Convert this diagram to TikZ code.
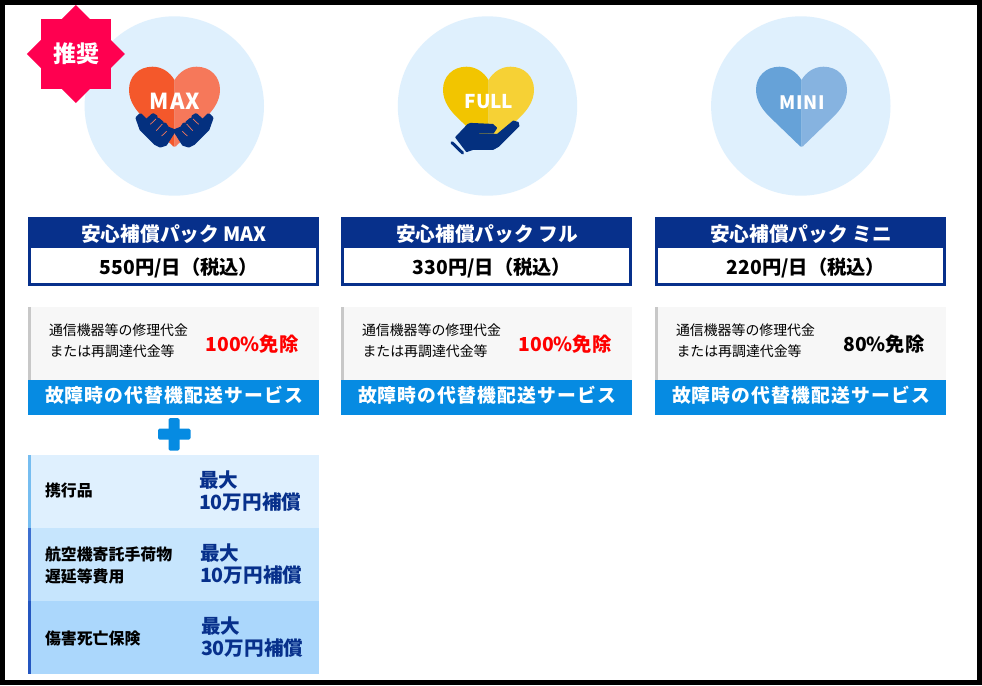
\documentclass[tikz,border=0pt]{standalone}
\usepackage{fontspec}
\setmainfont{Noto Sans CJK JP}
\newfontfamily\maxf[LetterSpace=6]{Noto Sans CJK JP}
\newfontfamily\minif[LetterSpace=4]{Noto Sans CJK JP}
\newfontfamily\bandf[LetterSpace=6]{Noto Sans CJK JP}
\newcommand{\fsz}[1]{\fontsize{#1}{#1}\selectfont}
\definecolor{navy}{HTML}{07308B}
\definecolor{handnavy}{HTML}{04307F}
\definecolor{bandblue}{HTML}{068BE2}
\definecolor{circ}{HTML}{DFF0FD}
\definecolor{grayfill}{HTML}{F7F7F7}
\definecolor{graybar}{HTML}{C8C8C8}
\definecolor{rowa}{HTML}{DFF0FE}
\definecolor{rowb}{HTML}{C6E5FD}
\definecolor{rowc}{HTML}{ABD7FC}
\definecolor{bara}{HTML}{76BDF0}
\definecolor{barb}{HTML}{3C6FD0}
\definecolor{barc}{HTML}{2456C0}
\definecolor{badge}{HTML}{FF0050}
\definecolor{maxa}{HTML}{F4582B}
\definecolor{maxb}{HTML}{F6785A}
\definecolor{fulla}{HTML}{F2C500}
\definecolor{fullb}{HTML}{F6D135}
\definecolor{minia}{HTML}{66A2D8}
\definecolor{minib}{HTML}{86B3E0}
\tikzset{
  txt/.style={inner sep=0pt,outer sep=0pt},
  titletxt/.style={txt,anchor=base,text=white,font=\bfseries\fsz{19.7}},
  pricetxt/.style={txt,anchor=base,text=black,font=\bfseries\fsz{19.3}},
  smalltxt/.style={txt,anchor=base west,text=black,font=\fsz{13.9}},
  pcttxt/.style={txt,anchor=base,font=\bfseries\fsz{19.3}},
  bandtxt/.style={txt,anchor=base,text=white,font=\bandf\bfseries\fsz{18.8}},
  rowtxt/.style={txt,anchor=base west,text=black,font=\bfseries\fsz{15.9}},
  covtxt/.style={txt,anchor=base west,text=navy,font=\bfseries\fsz{19.6}},
  maxtxt/.style={txt,anchor=base,text=white,font=\maxf\bfseries\fsz{22}},
  minitxt/.style={txt,anchor=base,text=white,font=\minif\bfseries\fsz{18.5}},
  fulltxt/.style={txt,anchor=base,text=white,font=\bfseries\fsz{19}},
}
\newcommand{\heartshape}[4]{%
  \begin{scope}[shift={(#1,#2)}]
    \foreach \sx/\col in {-1/#3,1/#4}{
      \fill[\col,xscale=\sx] (0,13.3) .. controls (5,5) and (13,0) .. (22,0)
        .. controls (36,0) and (45.5,10) .. (45.5,23)
        .. controls (45.5,35) and (38,44) .. (32,50)
        -- (3,78) .. controls (2,79.5) and (1,80) .. (0,80) -- cycle;
    }
  \end{scope}}
\newcommand{\plancol}[7]{%
  \fill[navy] (#1,217) rectangle ++(291,69);
  \fill[white] (#1+3,248) rectangle ++(285,35);
  \node[titletxt] (title#2) at (#1+146,241) {#3};
  \node[pricetxt] (price#2) at (#1+151,274) {#4};
  \fill[grayfill] (#1,307) rectangle ++(291,73);
  \fill[graybar] (#1,307) rectangle ++(3,73);
  \node[smalltxt] (repa#2) at (#1+21,335) {通信機器等の修理代金};
  \node[smalltxt] (repb#2) at (#1+21.5,356) {または再調達代金等};
  \node[pcttxt,text=#6] (pct#2) at (#1+#7,351) {#5};
  \fill[bandblue] (#1,380) rectangle ++(291,34.5);
  \node[bandtxt] (band#2) at (#1+146,402) {故障時の代替機配送サービス};
}
\newcommand{\planrow}[3]{%
  \fill[#2] (28,#1) rectangle ++(291,73);
  \fill[#3] (28,#1) rectangle ++(3,73);
}
\begin{document}
\begin{tikzpicture}[x=1pt,y=-1pt]
\useasboundingbox (0,0) rectangle (982,685);
\fill[black] (0,0) rectangle (982,685);
\fill[white] (5,5) rectangle (977,680);
\fill[circ] (174.3,106) circle (89.7);
\fill[circ] (487.5,106) circle (89.7);
\fill[circ] (800.8,106) circle (89.7);
\heartshape{174.5}{66.7}{maxa}{maxb}
\heartshape{488.5}{66.7}{fulla}{fullb}
\heartshape{801.5}{66.7}{minia}{minib}
\node[maxtxt] (maxlabel) at (175,109) {MAX};
\node[fulltxt] (fulllabel) at (489,108.5) {FULL};
\node[minitxt] (minilabel) at (802,109) {MINI};
% MAX hands
\foreach \sc/\sh in {1/125,-1/224}{
\begin{scope}[shift={(\sh,100)},xscale=\sc,scale=1/3]
  \fill[handnavy,draw=handnavy,line width=3pt,line join=round]
    (36,54) -- (46,44) -- (64,62) -- (84,44) -- (94,50) -- (88,60) -- (100,58) -- (112,68) -- (108,76)
    -- (120,72) -- (128,84) -- (148,92) -- (122,133) -- (106,138) -- (90,130) -- (48,88) -- cycle;
  \draw[maxb,line width=.7pt] (76,73) -- (93,57);
  \draw[maxb,line width=.7pt] (94,92) -- (112,72);
  \draw[maxb,line width=.7pt] (110,108) -- (125,94);
\end{scope}}
% FULL hand
\begin{scope}[shift={(440,110)},scale=1/3]
  \fill[handnavy,draw=handnavy,line width=1.5pt,line join=round]
    (48,82) -- (84,44) -- (92,41) -- (158,44) -- (169,54) -- (160,68) -- (115,68) -- (115,74) -- (172,74)
    -- (220,34) -- (234,38) -- (236,48) -- (176,108) -- (160,117) -- (100,117) -- (80,124) -- cycle;
  \draw[handnavy,line width=3pt,line cap=round] (36,98) -- (68,129);
\end{scope}
% badge
\fill[badge] (41,19) rectangle (110.7,89);
\fill[badge] (75.8,5) -- (124.8,54) -- (75.8,103) -- (26.8,54) -- cycle;
\node[txt,anchor=base,text=white,font=\bfseries\fsz{23}] (badgelabel) at (76,62.5) {推奨};
% columns
\plancol{28}{a}{安心補償パック MAX}{550円/日（税込）}{100\%免除}{red}{224}
\plancol{341}{b}{安心補償パック フル}{330円/日（税込）}{100\%免除}{red}{224}
\plancol{655}{c}{安心補償パック ミニ}{220円/日（税込）}{80\%免除}{black}{229}
% plus
\fill[bandblue,rounded corners=1.5pt] (168.5,418) rectangle (179.5,450.5);
\fill[bandblue,rounded corners=1.5pt] (158,428.5) rectangle (190.5,439.5);
% list rows
\planrow{455}{rowa}{bara}
\planrow{528}{rowb}{barb}
\planrow{601}{rowc}{barc}
\node[rowtxt] (rowone) at (45,496) {携行品};
\node[rowtxt] (rowtwoa) at (45,560) {航空機寄託手荷物};
\node[rowtxt] (rowtwob) at (45,582) {遅延等費用};
\node[rowtxt] (rowthree) at (45,644) {傷害死亡保険};
\node[covtxt] (cova) at (199,487) {最大};
\node[covtxt] (covb) at (199,509) {10万円補償};
\node[covtxt] (covc) at (200,560) {最大};
\node[covtxt] (covd) at (200,582) {10万円補償};
\node[covtxt] (cove) at (201,633) {最大};
\node[covtxt] (covf) at (201,655) {30万円補償};
\end{tikzpicture}
\end{document}
